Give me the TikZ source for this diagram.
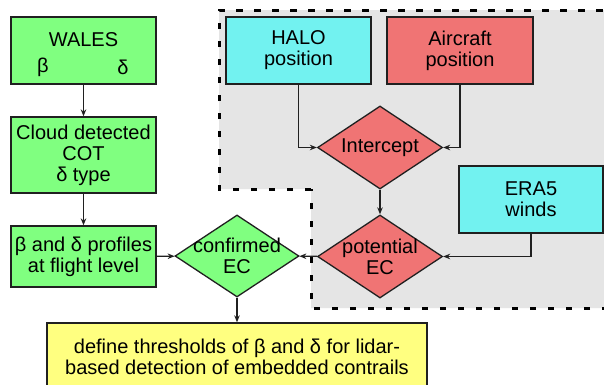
\documentclass[tikz,border=0pt]{standalone}
\usepackage{fontspec}
\setmainfont{Liberation Sans}
\usetikzlibrary{shapes.geometric,arrows.meta}
\definecolor{cgreen}{HTML}{80FF80}
\definecolor{ccyan}{HTML}{72F2F0}
\definecolor{cred}{HTML}{F07474}
\definecolor{cyellow}{HTML}{FFFF80}
\definecolor{cgray}{HTML}{E5E5E5}
\definecolor{cline}{HTML}{202020}
\begin{document}
\begin{tikzpicture}[x=1pt,y=-1pt,
  box/.style={draw=cline,line width=1.3pt,rectangle,inner sep=0pt},
  dia/.style={draw=cline,line width=1.3pt,diamond,inner sep=0pt,minimum width=125pt,minimum height=83pt},
  txt/.style={align=center,inner sep=0pt,font=\fontsize{20}{21}\selectfont},
  arr/.style={draw=cline,line width=1.2pt,-{Stealth[length=7pt,width=5.5pt]}}]
\clip (0,0) rectangle (604,384);
\fill[white] (0,0) rectangle (604,384);
% gray region
\path[fill=cgray,draw=black,line width=3pt,dash pattern=on 6.5pt off 11.5pt]
  (311,189) -- (219,189) -- (219,10) -- (615,10) -- (615,308) -- (311,308) -- cycle;
% left column
\node[box,fill=cgreen,minimum width=145pt,minimum height=67pt] (wales) at (83.5,50.5) {};
\node[txt] (walest) at (83.5,40) {WALES};
\node[txt] (beta) at (43,67) {β};
\node[txt] (delta) at (123,67) {δ};
\node[box,fill=cgreen,minimum width=145pt,minimum height=76pt] (cloud) at (83.5,155) {};
\node[txt] at (cloud) {Cloud detected\\COT\\δ type};
\node[box,fill=cgreen,minimum width=145pt,minimum height=61pt] (prof) at (83.5,256.5) {};
\node[txt] at (prof) {β and δ profiles\\at flight level};
\node[dia,fill=cgreen,minimum width=124pt,minimum height=82pt] (conf) at (237,256) {};
\node[txt] at (conf) {confirmed\\EC};
\node[box,fill=cyellow,minimum width=380pt,minimum height=66pt] (def) at (237,356) {};
\node[txt] at (237,357) {define thresholds of β and δ for lidar-\\based detection of embedded contrails};
% right part
\node[box,fill=ccyan,minimum width=145pt,minimum height=67pt] (halo) at (298.5,50.5) {};
\node[txt] at (halo) {HALO\\position};
\node[box,fill=cred,minimum width=146pt,minimum height=67pt] (air) at (460,50.5) {};
\node[txt] at (air) {Aircraft\\position};
\node[dia,fill=cred] (inter) at (380,147.5) {};
\node[txt] at (inter) {Intercept};
\node[box,fill=ccyan,minimum width=144pt,minimum height=67pt] (era) at (531,199.5) {};
\node[txt] at (era) {ERA5\\winds};
\node[dia,fill=cred] (pot) at (380,256.5) {};
\node[txt] at (pot) {potential\\EC};
% arrows
\draw[arr] (wales) -- (cloud);
\draw[arr] (cloud) -- (prof);
\draw[arr] (prof) -- (conf);
\draw[arr] (conf) -- (def);
\draw[arr] (halo.south) |- (inter.west);
\draw[arr] (air.south) |- (inter.east);
\draw[arr] (inter) -- (pot);
\draw[arr] (era.south) |- (pot.east);
\draw[arr] (pot) -- (conf);
\end{tikzpicture}
\end{document}
